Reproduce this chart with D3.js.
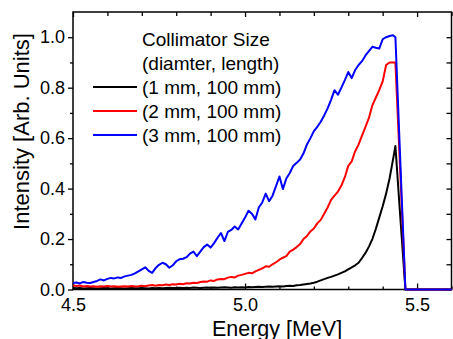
<!DOCTYPE html>
<html>
<head>
<meta charset="utf-8">
<script src="https://cdn.jsdelivr.net/npm/d3@7"></script>
<style>
  html, body { margin: 0; padding: 0; background: #fff; }
  svg { display: block; }
  text { font-family: "Liberation Sans", Arial, sans-serif; fill: #000; }
</style>
</head>
<body>
<svg id="chart" width="453" height="339"></svg>
<script>
// ---------------- DATA ----------------
const energy = [
  4.50,4.51,4.52,4.53,4.54,4.55,4.56,4.57,4.58,4.59,
  4.60,4.61,4.62,4.63,4.64,4.65,4.66,4.67,4.68,4.69,
  4.70,4.71,4.72,4.73,4.74,4.75,4.76,4.77,4.78,4.79,
  4.80,4.81,4.82,4.83,4.84,4.85,4.86,4.87,4.88,4.89,
  4.90,4.91,4.92,4.93,4.94,4.95,4.96,4.97,4.98,4.99,
  5.00,5.01,5.02,5.03,5.04,5.05,5.06,5.07,5.08,5.09,
  5.10,5.11,5.12,5.13,5.14,5.15,5.16,5.17,5.18,5.19,
  5.20,5.21,5.22,5.23,5.24,5.25,5.26,5.27,5.28,5.29,
  5.30,5.31,5.32,5.33,5.34,5.35,5.36,5.37,5.38,5.39,
  5.40,5.41,5.42,5.43,
  5.437,5.45,5.466,5.50,5.55,5.60
];

const series1mm = [
  0.006,0.005,0.006,0.004,0.005,0.006,0.005,0.004,0.005,0.006,
  0.005,0.004,0.005,0.006,0.005,0.004,0.005,0.006,0.005,0.005,
  0.006,0.005,0.004,0.006,0.005,0.006,0.005,0.006,0.007,0.006,
  0.006,0.007,0.006,0.007,0.006,0.008,0.007,0.006,0.007,0.008,
  0.007,0.008,0.007,0.008,0.009,0.008,0.007,0.009,0.008,0.009,
  0.008,0.010,0.009,0.010,0.011,0.010,0.011,0.012,0.011,0.012,
  0.013,0.012,0.014,0.015,0.014,0.017,0.018,0.020,0.022,0.024,
  0.027,0.031,0.036,0.041,0.046,0.050,0.055,0.060,0.066,0.072,
  0.080,0.088,0.096,0.106,0.125,0.145,0.170,0.200,0.240,0.285,
  0.330,0.380,0.440,0.515,
  0.569,0.310,0.000,0.000,0.000,0.000
];

const series2mm = [
  0.016,0.014,0.016,0.012,0.014,0.012,0.013,0.011,0.013,0.012,
  0.014,0.012,0.013,0.011,0.012,0.013,0.012,0.014,0.012,0.013,
  0.015,0.013,0.016,0.018,0.015,0.018,0.017,0.020,0.018,0.021,
  0.020,0.023,0.021,0.025,0.024,0.027,0.026,0.030,0.032,0.031,
  0.036,0.034,0.040,0.042,0.041,0.047,0.050,0.048,0.055,0.058,
  0.062,0.066,0.064,0.072,0.078,0.084,0.092,0.090,0.100,0.108,
  0.118,0.126,0.132,0.150,0.158,0.168,0.180,0.200,0.212,0.230,
  0.242,0.262,0.276,0.300,0.325,0.355,0.372,0.388,0.412,0.445,
  0.490,0.508,0.548,0.575,0.610,0.645,0.680,0.730,0.760,0.790,
  0.825,0.890,0.900,0.900,
  0.900,0.500,0.000,0.000,0.000,0.000
];

const series3mm = [
  0.026,0.028,0.024,0.030,0.027,0.026,0.030,0.034,0.040,0.036,
  0.042,0.046,0.044,0.048,0.046,0.052,0.055,0.058,0.064,0.072,
  0.080,0.088,0.074,0.066,0.085,0.098,0.106,0.100,0.086,0.096,
  0.112,0.120,0.122,0.128,0.142,0.150,0.132,0.150,0.168,0.178,
  0.166,0.184,0.205,0.224,0.192,0.228,0.236,0.250,0.238,0.262,
  0.285,0.312,0.300,0.278,0.325,0.345,0.380,0.350,0.372,0.410,
  0.448,0.398,0.440,0.462,0.490,0.502,0.515,0.540,0.575,0.600,
  0.628,0.645,0.665,0.690,0.718,0.752,0.790,0.772,0.800,0.830,
  0.862,0.838,0.870,0.890,0.905,0.928,0.945,0.962,0.958,0.955,
  0.992,1.000,1.005,1.008,
  1.000,0.550,0.000,0.000,0.000,0.000
];

const seriesNames = ["(1 mm, 100 mm)", "(2 mm, 100 mm)", "(3 mm, 100 mm)"];
const seriesColors = ["#000000", "#ff0000", "#0000ff"];
const legendTitle = ["Collimator Size", "(diamter, length)"];

const xTickValues = [4.5, 5.0, 5.5];
const xMinorTicks = [4.6, 4.7, 4.8, 4.9, 5.1, 5.2, 5.3, 5.4, 5.6];
const yTickValues = [0.0, 0.2, 0.4, 0.6, 0.8, 1.0];
const yMinorTicks = [0.1, 0.3, 0.5, 0.7, 0.9];
const xTitle = "Energy [MeV]";
const yTitle = "Intensity [Arb. Units]";

// ---------------- LAYOUT ----------------
const svg = d3.select("#chart");
const L = 73, R = 451.5, T = 12, B = 289.5;

const x = d3.scaleLinear().domain([4.5, 5.6]).range([L, R]);
const y = d3.scaleLinear().domain([0, 1.1]).range([B, T]);

const fmt = d3.format(".1f");
const FONT = '"Liberation Sans", Arial, sans-serif';

// bottom axis: inward ticks (upward)
const gB = svg.append("g").attr("transform", `translate(0,${B})`);
gB.call(d3.axisBottom(x).tickValues(xTickValues).tickSize(-6).tickFormat(fmt).tickPadding(9))
  .call(g => g.select(".domain").remove());
gB.selectAll(".tick line").attr("stroke", "#000").attr("stroke-width", 1.3);
gB.selectAll(".tick text").attr("font-size", 18).attr("fill", "#000").attr("font-family", FONT);
gB.append("g").call(d3.axisBottom(x).tickValues(xMinorTicks).tickSize(-3).tickFormat(""))
  .call(g => g.select(".domain").remove())
  .selectAll("line").attr("stroke", "#000").attr("stroke-width", 1.3);

// top axis: inward ticks (downward)
const gT = svg.append("g").attr("transform", `translate(0,${T})`);
gT.call(d3.axisTop(x).tickValues(xTickValues).tickSize(-5).tickFormat(""))
  .call(g => g.select(".domain").remove());
gT.selectAll("line").attr("stroke", "#000").attr("stroke-width", 1.3);
gT.append("g").call(d3.axisTop(x).tickValues(xMinorTicks).tickSize(-4).tickFormat(""))
  .call(g => g.select(".domain").remove())
  .selectAll("line").attr("stroke", "#000").attr("stroke-width", 1.3);

// left axis: outward ticks
const gL = svg.append("g").attr("transform", `translate(${L},0)`);
gL.call(d3.axisLeft(y).tickValues(yTickValues).tickSize(5).tickFormat(fmt).tickPadding(3))
  .call(g => g.select(".domain").remove());
gL.selectAll(".tick line").attr("stroke", "#000").attr("stroke-width", 1.3);
gL.selectAll(".tick text").attr("font-size", 18).attr("fill", "#000").attr("font-family", FONT);
gL.append("g").call(d3.axisLeft(y).tickValues(yMinorTicks).tickSize(3).tickFormat(""))
  .call(g => g.select(".domain").remove())
  .selectAll("line").attr("stroke", "#000").attr("stroke-width", 1.3);

// right axis: inward ticks
const gR = svg.append("g").attr("transform", `translate(${R},0)`);
gR.call(d3.axisRight(y).tickValues(yTickValues.concat(yMinorTicks)).tickSize(-5).tickFormat(""))
  .call(g => g.select(".domain").remove());
gR.selectAll("line").attr("stroke", "#000").attr("stroke-width", 1.3);

// frame
svg.append("rect")
  .attr("x", L).attr("y", T).attr("width", R - L).attr("height", B - T)
  .attr("fill", "none").attr("stroke", "#000").attr("stroke-width", 1.5);

// lines
const allSeries = [series1mm, series2mm, series3mm];
const line = d3.line()
  .x((d, i) => x(energy[i]))
  .y(d => y(d));

allSeries.forEach((s, k) => {
  svg.append("path")
    .datum(s)
    .attr("d", line)
    .attr("fill", "none")
    .attr("stroke", seriesColors[k])
    .attr("stroke-width", 2)
    .attr("stroke-linejoin", "round");
});

// legend
const legX = 142, legY0 = 39, legDy = 24;
const leg = svg.append("g");
legendTitle.forEach((t, i) => {
  leg.append("text")
    .attr("x", legX).attr("y", legY0 + i * legDy)
    .attr("dy", "0.35em")
    .attr("font-size", 19)
    .text(t);
});
seriesNames.forEach((t, i) => {
  const yy = legY0 + (i + 2) * legDy;
  leg.append("line")
    .attr("x1", 93).attr("x2", 137)
    .attr("y1", yy).attr("y2", yy)
    .attr("stroke", seriesColors[i]).attr("stroke-width", 2);
  leg.append("text")
    .attr("x", legX).attr("y", yy)
    .attr("dy", "0.35em")
    .attr("font-size", 19)
    .text(t);
});

// axis titles
svg.append("text")
  .attr("x", 277).attr("y", 335.5)
  .attr("text-anchor", "middle")
  .attr("font-size", 21.5)
  .text(xTitle);

svg.append("text")
  .attr("transform", `translate(28.5,${(33 + 230) / 2}) rotate(-90)`)
  .attr("text-anchor", "middle")
  .attr("font-size", 22)
  .text(yTitle);
</script>
</body>
</html>
